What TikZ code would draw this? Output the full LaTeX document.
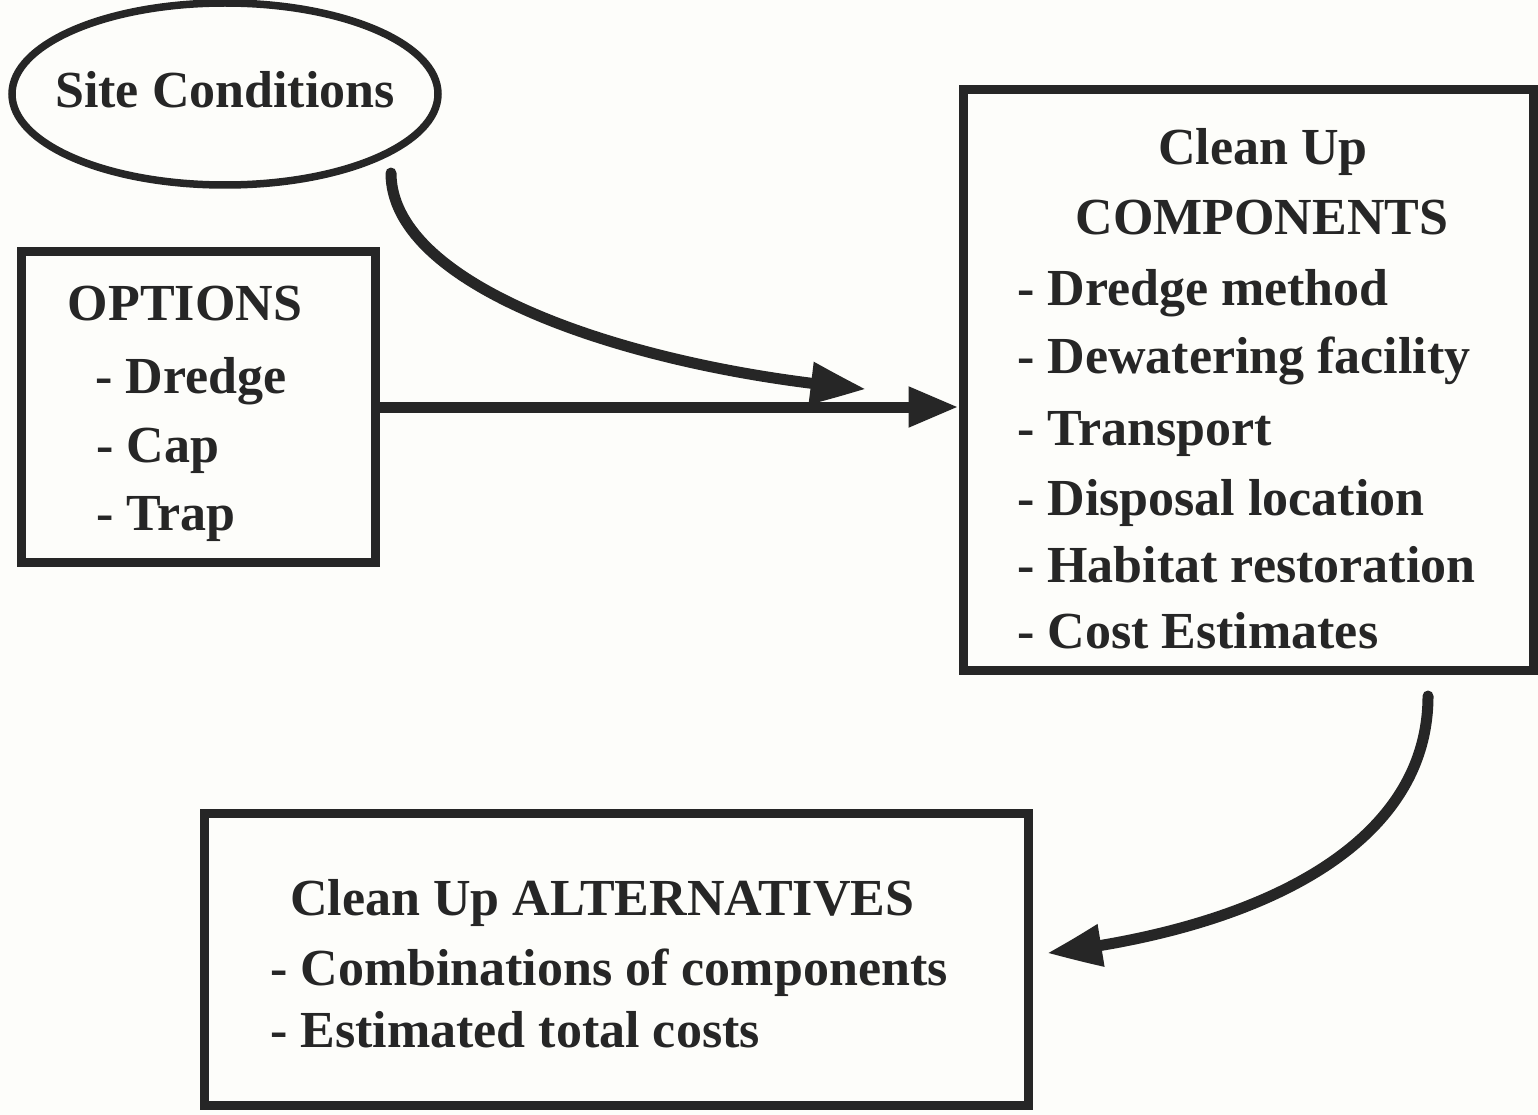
\documentclass[tikz,border=0pt]{standalone}
\usepackage{fontspec}
\setmainfont{Liberation Serif}
\usetikzlibrary{arrows.meta,shapes.geometric,bending}
\definecolor{ink}{HTML}{262626}
\definecolor{paper}{HTML}{FDFDFA}
\begin{document}
\begin{tikzpicture}[x=1pt,y=-1pt,
  box/.style={draw=ink,line width=9pt,rectangle,inner sep=0pt},
  txt/.style={anchor=base west,inner sep=0pt,text=ink,font=\fontsize{52}{62}\selectfont\bfseries},
  ctxt/.style={txt,anchor=base},
  conn/.style={draw=ink,line width=11pt,line cap=round},
  tipbig/.style={-{Triangle[length=55pt,width=40pt,bend]}},
  tipstraight/.style={-{Triangle[length=50pt,width=38pt]}}]
\fill[paper] (0,0) rectangle (1538,1115);
\useasboundingbox (0,0) rectangle (1538,1115);

% shapes
\node[draw=ink,line width=7.5pt,ellipse,minimum width=426pt,minimum height=182pt,inner sep=0pt] (sc) at (225,94) {};
\node[box,minimum width=354pt,minimum height=310pt] (opt) at (198,407) {};
\node[box,minimum width=570pt,minimum height=580pt] (comp) at (1248,380) {};
\node[box,minimum width=824pt,minimum height=292pt] (alt) at (616,959) {};

% texts
\node[ctxt] (sct) at (225,108) {Site Conditions};

\node[ctxt] (o0) at (185,320) {OPTIONS};
\node[txt] (o1) at (95,393) {- Dredge};
\node[txt] (o2) at (96,462) {- Cap};
\node[txt] (o3) at (96,530) {- Trap};

\node[ctxt] (c0) at (1263,165) {Clean Up};
\node[ctxt] (c00) at (1262,235) {COMPONENTS};
\node[txt] (c1) at (1017,305) {- Dredge method};
\node[txt] (c2) at (1017,373) {- Dewatering facility};
\node[txt] (c3) at (1017,445) {- Transport};
\node[txt] (c4) at (1017,515) {- Disposal location};
\node[txt] (c5) at (1017,582) {- Habitat restoration};
\node[txt] (c6) at (1017,648) {- Cost Estimates};

\node[txt] (a0) at (290,915) {Clean Up ALTERNATIVES};
\node[txt] (a1) at (270,985) {- Combinations of components};
\node[txt] (a2) at (270,1047) {- Estimated total costs};

% connector ends
\coordinate (s1) at (391,173);
\coordinate (e1) at (866,389);
\coordinate (s2) at (1428,696);
\coordinate (e2) at (1047,953);

% connectors
\draw[conn,tipbig] (s1) .. controls (391,290) and (640,370) .. (e1);
\draw[conn,tipstraight] (opt.east) -- (opt.east -| comp.west);
\draw[conn,tipbig] (s2) .. controls (1428,850) and (1250,930) .. (e2);
\end{tikzpicture}
\end{document}
